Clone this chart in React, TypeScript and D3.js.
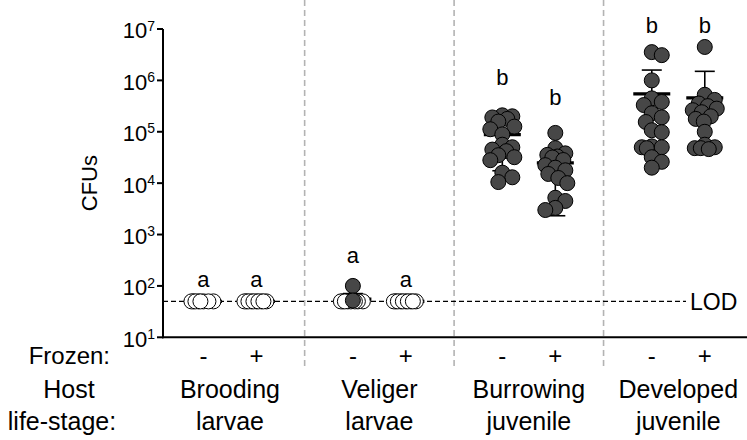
import React from "react";
import * as d3 from "d3";

// ---- data ----
const LOD = 50;
const groupLine1 = ["Brooding", "Veliger", "Burrowing", "Developed"];
const groupLine2 = ["larvae", "larvae", "juvenile", "juvenile"];
const frozenLevels = ["-", "+"];
const yTickExponents = [1, 2, 3, 4, 5, 6, 7];

const broodingMinus = [50, 50, 50, 50, 50, 50, 50, 50];
const broodingPlus = [50, 50, 50, 50, 50, 50, 50, 50, 50, 50];
const veligerMinus = [50, 50, 50, 50, 50, 50, 50, 50, 52, 100];
const veligerPlus = [50, 50, 50, 50, 50, 50, 50, 50, 50, 50];
const burrowingMinus = [209000, 200000, 190000, 178000, 158000, 126000, 112000, 89000, 56000, 50000, 45000, 42000, 35000, 32000, 28000, 16000, 13000, 10500];
const burrowingPlus = [95000, 48000, 38000, 35500, 33000, 31600, 28200, 22400, 20000, 17800, 15100, 12600, 10000, 5200, 4500, 3300, 3000];
const developedMinus = [3550000, 3100000, 1000000, 447000, 380000, 331000, 229000, 191000, 155000, 107000, 98000, 52000, 50000, 48000, 50000, 32000, 26000, 20000];
const developedPlus = [4470000, 525000, 417000, 355000, 316000, 282000, 263000, 240000, 200000, 178000, 158000, 100000, 56000, 50000, 48000, 48000, 46000];

const seriesValues = [
  [broodingMinus, broodingPlus],
  [veligerMinus, veligerPlus],
  [burrowingMinus, burrowingPlus],
  [developedMinus, developedPlus],
];
const letters = [["a", "a"], ["a", "a"], ["b", "b"], ["b", "b"]];
const letterLevels = [[95, 95], [280, 95], [810000, 330000], [8300000, 8300000]];

// ---- layout ----
const W = 747;
const H = 440;
const FONT = "'Liberation Sans', Arial, Helvetica, sans-serif";
const R = 7.5;

const y = d3.scaleLog().domain([10, 1e7]).range([337.3, 29]);
const xGroup = d3.scaleBand<number>().domain([0, 1, 2, 3]).range([155.2, 753]).padding(0);
const xInner = d3.scalePoint<string>().domain(frozenLevels).range([0, xGroup.bandwidth()]).padding(0.91);
const axisX = 163;

function swarm(values: number[], cx: number) {
  const pts = values.map((v) => ({ v, py: y(v), px: cx })).sort((a, b) => a.py - b.py);
  const placed: { px: number; py: number }[] = [];
  const order = [0];
  for (let k = 1; k <= 6; k++) order.push(k * 2, -k * 2);
  const minD = 10;
  for (const p of pts) {
    let chosen: number | null = null;
    for (const o of order) {
      const ok = placed.every((q) => Math.hypot(q.px - (cx + o), q.py - p.py) >= minD);
      if (ok) { chosen = o; break; }
    }
    if (chosen === null) {
      let best = 0, bestD = -1;
      for (let o = -12; o <= 12; o += 1) {
        const dmin = d3.min(placed, (q) => Math.hypot(q.px - (cx + o), q.py - p.py)) ?? 99;
        if (dmin > bestD) { bestD = dmin; best = o; }
      }
      chosen = best;
    }
    p.px = cx + chosen;
    placed.push({ px: p.px, py: p.py });
  }
  // open (non-detected) circles drawn first, detected on top
  return pts.sort((a, b) => (a.v > LOD ? 1 : 0) - (b.v > LOD ? 1 : 0));
}

export default function App() {
  const separators = [1, 2, 3].map((i) => xGroup(i) as number);
  const conds: any[] = [];
  seriesValues.forEach((pair, gi) => {
    pair.forEach((vals, fi) => {
      const cx = (xGroup(gi) as number) + (xInner(frozenLevels[fi]) as number);
      const mean = d3.mean(vals) as number;
      const sd = d3.deviation(vals) ?? 0;
      conds.push({ gi, fi, cx, vals, mean, sd, pts: swarm(vals, cx), letter: letters[gi][fi], letterLevel: letterLevels[gi][fi] });
    });
  });

  return (
    <svg width={W} height={H} style={{ position: "absolute", left: 0, top: 0, background: "#fff" }} fontFamily={FONT}>
      <rect x={0} y={0} width={W} height={H} fill="#fff" />
      {/* separators */}
      {separators.map((sx, i) => (
        <line key={i} x1={sx} x2={sx} y1={0} y2={366} stroke="#b3b3b3" strokeWidth={1.6} strokeDasharray="6,4" />
      ))}
      {/* LOD line */}
      <line x1={axisX} x2={686} y1={y(LOD)} y2={y(LOD)} stroke="#000" strokeWidth={1.3} strokeDasharray="5,3" />
      <text x={690} y={y(LOD) + 8.5} fontSize={23} fill="#000">LOD</text>

      {/* mean and SD */}
      {conds.map((c, i) => {
        const yMean = y(c.mean);
        const up = y(c.mean + c.sd);
        const low = c.mean - c.sd > 0 ? y(c.mean - c.sd) : null;
        return (
          <g key={"m" + i} stroke="#000">
            {c.sd > 0 && <line x1={c.cx} x2={c.cx} y1={yMean} y2={up} strokeWidth={1.6} />}
            {c.sd > 0 && <line x1={c.cx - 10} x2={c.cx + 10} y1={up} y2={up} strokeWidth={1.6} />}
            {c.sd > 0 && low !== null && <line x1={c.cx} x2={c.cx} y1={yMean} y2={low} strokeWidth={1.6} />}
            {c.sd > 0 && low !== null && <line x1={c.cx - 10} x2={c.cx + 10} y1={low} y2={low} strokeWidth={1.6} />}
            <line x1={c.cx - 18.5} x2={c.cx + 18.5} y1={yMean} y2={yMean} strokeWidth={3.2} />
          </g>
        );
      })}

      {/* points */}
      {conds.map((c, i) => (
        <g key={"p" + i}>
          {c.pts.map((p: any, j: number) => (
            <circle key={j} cx={p.px} cy={p.py} r={R} fill={p.v > LOD ? "#474747" : "#fff"} stroke="#000" strokeWidth={1} />
          ))}
        </g>
      ))}

      {/* letters */}
      {conds.map((c, i) => (
        <text key={"l" + i} x={c.cx} y={y(c.letterLevel)} textAnchor="middle" fontSize={22} fill="#000">{c.letter}</text>
      ))}

      {/* axes */}
      <line x1={axisX} x2={axisX} y1={y(1e7)} y2={y(10) + 1} stroke="#000" strokeWidth={2} />
      <line x1={axisX - 1} x2={W} y1={y(10)} y2={y(10)} stroke="#000" strokeWidth={2} />
      {yTickExponents.map((e) => {
        const ty = y(Math.pow(10, e));
        return (
          <g key={e}>
            <line x1={axisX - 6} x2={axisX} y1={ty} y2={ty} stroke="#000" strokeWidth={2} />
            <text x={155} y={ty + 9.4} textAnchor="end" fontSize={22} fill="#000">
              10<tspan fontSize={14} dy={-7.8}>{e}</tspan>
            </text>
          </g>
        );
      })}
      <text transform={`translate(97,${(y(1e7) + y(10)) / 2}) rotate(-90)`} textAnchor="middle" fontSize={22} fill="#000">CFUs</text>

      {/* x labels */}
      <text x={110} y={364} textAnchor="end" fontSize={24} fill="#000">Frozen:</text>
      {conds.map((c, i) => (
        <text key={"f" + i} x={c.cx} y={364} textAnchor="middle" fontSize={24} fill="#000">{frozenLevels[c.fi]}</text>
      ))}
      <text x={69} y={398} textAnchor="middle" fontSize={25} fill="#000">Host</text>
      <text x={62} y={430} textAnchor="middle" fontSize={25} fill="#000">life-stage:</text>
      {groupLine1.map((g, gi) => {
        const gx = (xGroup(gi) as number) + xGroup.bandwidth() / 2;
        return (
          <g key={"g" + gi}>
            <text x={gx} y={398} textAnchor="middle" fontSize={25} fill="#000">{g}</text>
            <text x={gx} y={430} textAnchor="middle" fontSize={25} fill="#000">{groupLine2[gi]}</text>
          </g>
        );
      })}
    </svg>
  );
}
